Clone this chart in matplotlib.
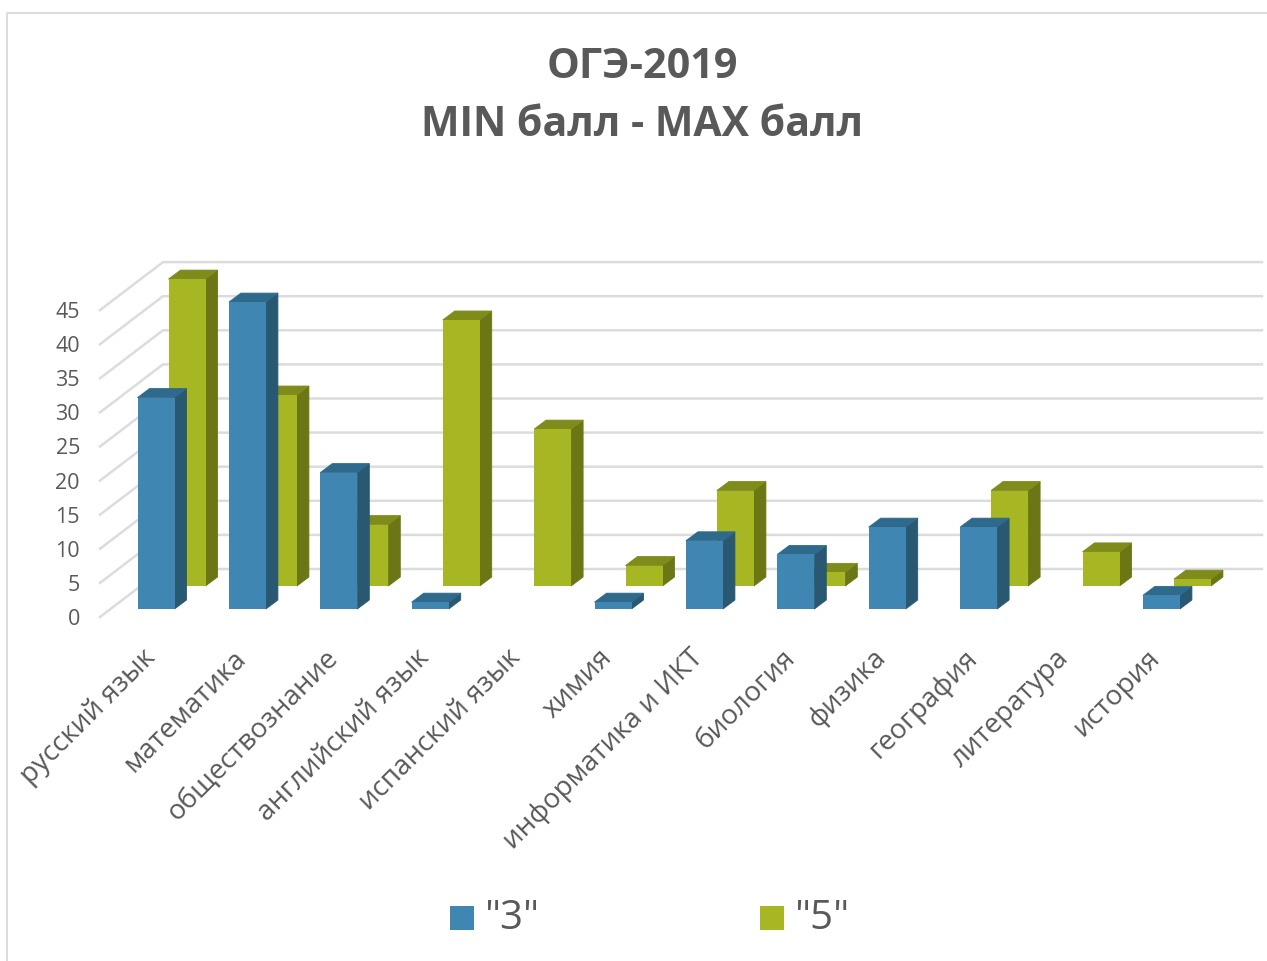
import matplotlib.pyplot as plt
from matplotlib.lines import Line2D
from matplotlib.patches import Polygon, Rectangle

plt.rcParams['font.family'] = ['Open Sans', 'DejaVu Sans']

subjects = ['русский язык', 'математика', 'обществознание', 'английский язык',
            'испанский язык', 'химия', 'информатика и ИКТ', 'биология',
            'физика', 'география', 'литература', 'история']
grade3 = [31, 45, 20, 1, 0, 1, 10, 8, 12, 12, 0, 2]
grade5 = [45, 28, 9, 39, 23, 3, 14, 2, 0, 14, 5, 1]
yticks = [0, 5, 10, 15, 20, 25, 30, 35, 40, 45]

W, H = 1267, 961
px_x = 91.4   # pixels per category
px_y = 6.82   # pixels per score point
x0, y0 = 156, 609

w = 37 / px_x
dx = 12 / px_x    # bar depth
dy = 9 / px_y
gx = 31 / px_x    # the "5" row stands behind the "3" row
gy = 23 / px_y

text_col = '#595959'
grid_col = '#dcdcdc'

fig = plt.figure(figsize=(W / 100, H / 100), dpi=100)
ax = fig.add_axes([0, 0, 1, 1])
ax.set_xlim(-x0 / px_x, (W - x0) / px_x)
ax.set_ylim((y0 - H) / px_y, y0 / px_y)
ax.axis('off')


def bars3d(xs, vals, bottom, front, side, top, z):
    xs = [x for x, v in zip(xs, vals) if v > 0]
    vals = [v for v in vals if v > 0]
    for x, v in zip(xs, vals):
        r = x + w / 2
        l = x - w / 2
        t = bottom + v
        # sides go first, with a thin edge so no seam shows against the front
        ax.add_patch(Polygon([(r, bottom), (r + dx, bottom + dy), (r + dx, t + dy), (r, t)],
                             facecolor=side, edgecolor=side, lw=0.6, zorder=z))
        ax.add_patch(Polygon([(l, t), (r, t), (r + dx, t + dy), (l + dx, t + dy)],
                             facecolor=top, edgecolor=top, lw=0.6, zorder=z))
    ax.bar(xs, vals, w, bottom=bottom, color=front, linewidth=0, zorder=z + 0.5)


# grid: back wall plus the slanted side wall
for v in yticks:
    ax.plot([-56 / px_x, 7 / px_x, 1106 / px_x],
            [v - 8 / px_y, v + 40 / px_y, v + 40 / px_y],
            color=grid_col, lw=1.8, solid_joinstyle='miter', zorder=1)
    ax.text(-76 / px_x, v - 10.5 / px_y, str(v), ha='right', va='center',
            fontsize=15.5, color=text_col)

idx = range(len(subjects))
bars3d([i + gx for i in idx], grade5, gy, '#a7b724', '#6c7614', '#7f8b1a', 2)
bars3d(list(idx), grade3, 0, '#3f87b2', '#285872', '#2f6a8c', 3)

for i, name in enumerate(subjects):
    ax.text(i - 5 / px_x, -45 / px_y, name, rotation=45, rotation_mode='anchor',
            ha='right', va='center', fontsize=20, color=text_col)

fig.text(642 / W, 1 - 68 / H, 'ОГЭ-2019', ha='center', va='center',
         fontsize=29.8, fontweight='bold', color=text_col)
fig.text(642 / W, 1 - 126 / H, 'MIN балл - MAX балл', ha='center', va='center',
         fontsize=29.5, fontweight='bold', color=text_col)

# legend
for lx, col, lab in [(450, '#3f87b2', '"3"'), (760, '#a7b724', '"5"')]:
    fig.add_artist(Rectangle((lx / W, 1 - 930 / H), 24 / W, 24 / H, color=col, lw=0))
    fig.text((lx + 35) / W, 1 - 919 / H, lab, ha='left', va='center',
             fontsize=29, color=text_col)

# chart frame
fig.add_artist(Line2D([7 / W, 7 / W, 1], [0, 1 - 13 / H, 1 - 13 / H],
                      color=grid_col, lw=1.5))

plt.savefig('out.png', dpi=100)
